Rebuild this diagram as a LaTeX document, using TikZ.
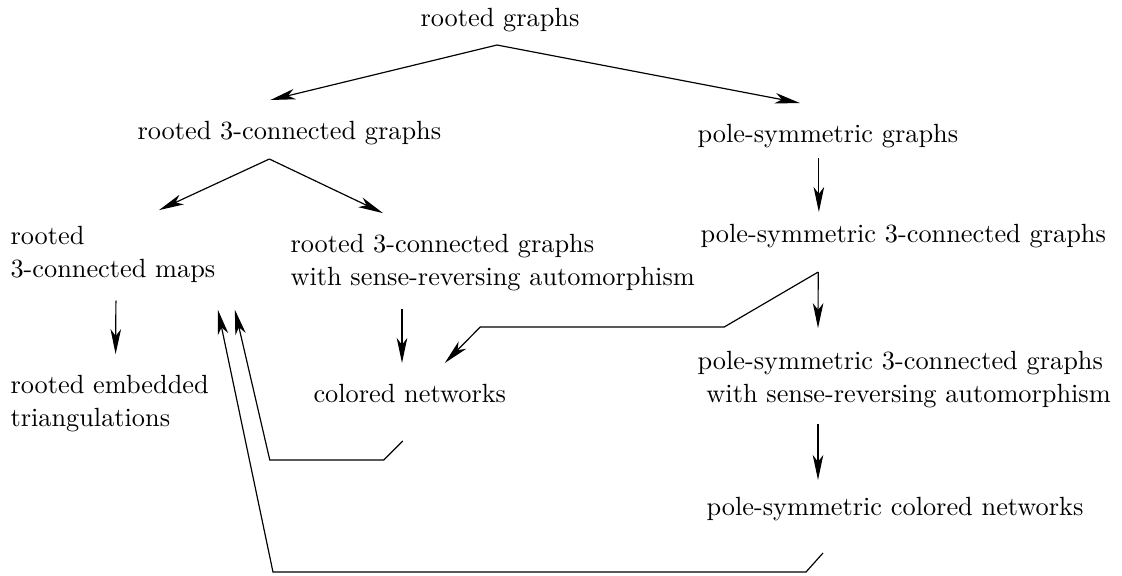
\documentclass[tikz,border=0pt]{standalone}
\usetikzlibrary{arrows.meta,calc}
\begin{document}
\begin{tikzpicture}[x=0.38pt,y=-0.38pt,
  lbl/.style={inner sep=0pt,font=\fontsize{10}{12.2}\selectfont,align=left},
  conn/.style={line width=0.45pt},
  arr/.style={conn,-{Stealth[length=9.5pt,width=4pt,inset=2.6pt]}}]
\useasboundingbox (0,0) rectangle (1122,575);
\node[lbl,anchor=base] (rg) at (500,26) {rooted graphs};
\node[lbl,anchor=base west] (r3) at (137,139) {rooted 3-connected graphs};
\node[lbl,anchor=base west] (ps) at (697,142) {pole-symmetric graphs};
\node[lbl,anchor=base west] (rm) at (10,277) {rooted\\3-connected maps};
\node[lbl,anchor=base west] (r3s) at (290,285) {rooted 3-connected graphs\\with sense-reversing automorphism};
\node[lbl,anchor=base west] (ps3) at (700,242) {pole-symmetric 3-connected graphs};
\node[lbl,anchor=base west] (ret) at (10,426) {rooted embedded\\triangulations};
\node[lbl,anchor=base west] (cn) at (313,402) {colored networks};
\node[lbl,anchor=base west] (ps3s) at (697,402) {pole-symmetric 3-connected graphs\\\hspace*{3.4pt}with sense-reversing automorphism};
\node[lbl,anchor=base west] (pscn) at (706,515) {pole-symmetric colored networks};
% connectors
\draw[arr] ($(rg.base)+(-3,19)$) -- ($(r3.base)+(-19,-39)$);
\draw[arr] ($(rg.base)+(-3,19)$) -- ($(ps.base)+(-28,-39)$);
\draw[arr] ($(r3.base)+(-20,20)$) -- ($(rm.north)+(46,-16)$);
\draw[arr] ($(r3.base)+(-20,20)$) -- ($(r3s.north west)+(93,-21)$);
\draw[arr] ($(ps.base)+(-9,16)$) -- ++(0,54);
\draw[arr] ($(rm.south)+(3,18)$) -- ($(ret.north)+(6,-21)$);
\draw[arr] ($(r3s.south west)+(112,18)$) -- ++(0,54);
\draw[arr] ($(ps3.base)+(-85,30)$) -- ($(ps3s.north west)+(121,-23)$);
\draw[arr] ($(ps3s.south west)+(121,16)$) -- ++(0,56);
\draw[arr] ($(ps3.base)+(-85,30)$) -- ++(-94,55) -- ++(-244,0) -- ($(cn.base)+(35,-39)$);
\draw[arr] ($(cn.base)+(-7,39)$) -- ++(-19,19) -- ++(-114,0) -- ($(rm.south east)+(19,27)$);
\draw[arr] ($(pscn.base)+(-72,38)$) -- ++(-17,19) -- ++(-533,0) -- ($(rm.south east)+(2,27)$);
\end{tikzpicture}
\end{document}
